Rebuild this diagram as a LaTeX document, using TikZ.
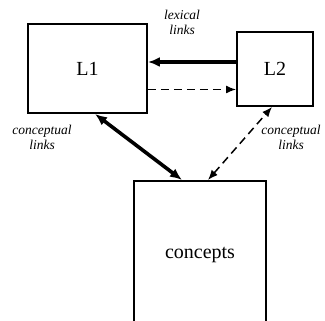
\documentclass[tikz,border=0pt]{standalone}
\usepackage{fontspec}
\setmainfont{Liberation Serif}
\usepackage{tikz}
\usetikzlibrary{arrows.meta, calc, positioning}
\tikzstyle{box} = [rectangle, line width=1.9pt, draw=black, inner sep=0pt, font=\fontsize{20}{22}\selectfont]
\tikzstyle{linklabel} = [align=center, font=\fontsize{13.5}{14}\selectfont\itshape]
\tikzstyle{strong} = [line width=3.6pt, -{Latex[length=12pt,width=10pt]}]
\tikzstyle{weak} = [line width=1.5pt, dashed, dash pattern=on 8pt off 5pt, -{Latex[length=10pt,width=8pt]}]

\begin{document}
\begin{tikzpicture}[x=1pt, y=1pt]
		\clip (0,0) rectangle (325,321);
		\node (L1) [box, minimum width=119pt, minimum height=89pt] at (87.5,252.5) {L1};
		\node (L2) [box, minimum width=76pt, minimum height=74pt] at (275,252) {L2};
		\node (Concepts) [box, minimum width=132pt, minimum height=150pt, anchor=north] at (200,141) {\raisebox{6pt}{concepts}};

		% lexical links between the two lexicons
		\draw [strong] ([yshift=7pt]L2.west) -- ([yshift=7pt]L2.west -| L1.east);
		\draw [weak] ([yshift=-21pt]L1.east) -- ([yshift=-21pt]L1.east -| L2.west);

		% conceptual links down to the concept store
		\draw [strong, {Latex[length=12pt,width=10pt]}-{Latex[length=12pt,width=10pt]}] ([xshift=-18pt]Concepts.north) -- ([xshift=7.5pt]L1.south);
		\draw [weak, {Latex[length=10pt,width=8pt]}-{Latex[length=10pt,width=8pt]}] ([xshift=8pt]Concepts.north) -- ([xshift=-3pt]L2.south);

		\node (LexLabel) [linklabel] at (182,299) {lexical\\[1pt]links};
		\node (ConLabelL) [linklabel] at (42,184) {conceptual\\[1pt]links};
		\node (ConLabelR) [linklabel] at (291,184) {conceptual\\[1pt]links};
		\end{tikzpicture}
\end{document}
